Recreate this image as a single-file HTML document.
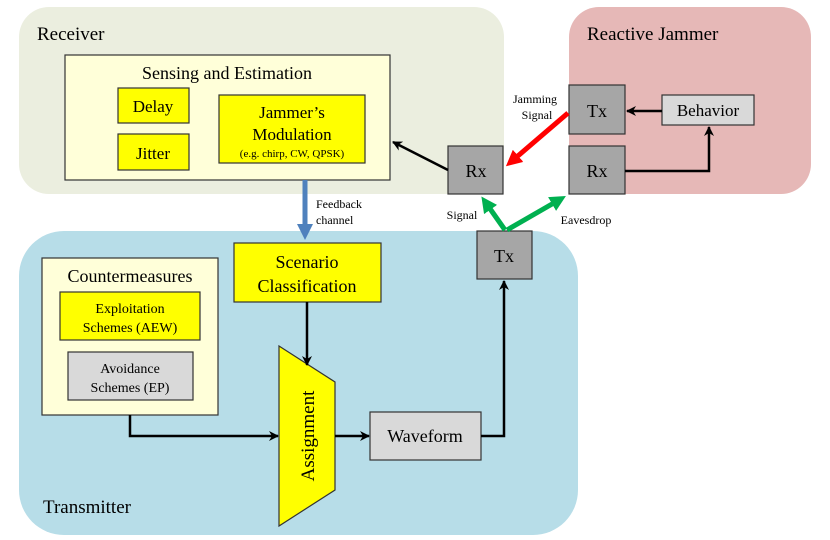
<!DOCTYPE html>
<html><head><meta charset="utf-8"><style>body{margin:0;background:#fff}svg{display:block}text{font-family:"Liberation Serif",serif}</style></head><body>
<svg width="830" height="540" viewBox="0 0 830 540" xmlns="http://www.w3.org/2000/svg" style="font-family:'Liberation Serif',serif">
<defs>
<marker id="ab" markerWidth="10" markerHeight="10" refX="9" refY="5" orient="auto" markerUnits="userSpaceOnUse"><path d="M0,0 L10,5 L0,10 L3,5z" fill="#000"/></marker>
<marker id="ar" markerWidth="16" markerHeight="16" refX="8" refY="8" orient="auto" markerUnits="userSpaceOnUse"><path d="M0,0 L16,8 L0,16z" fill="#f00"/></marker>
<marker id="ag" markerWidth="16" markerHeight="16" refX="8" refY="8" orient="auto" markerUnits="userSpaceOnUse"><path d="M0,0 L16,8 L0,16z" fill="#00b050"/></marker>
<marker id="abl" markerWidth="16" markerHeight="16" refX="8" refY="8" orient="auto" markerUnits="userSpaceOnUse"><path d="M0,0 L16,8 L0,16z" fill="#4f81bd"/></marker>
</defs>
<rect x="19" y="7" width="485" height="187" rx="30" fill="#ebeedf"/>
<rect x="569" y="7" width="242" height="187" rx="30" fill="#e6b8b7"/>
<rect x="19" y="231" width="559" height="304" rx="45" fill="#b7dde8"/>
<text x="37" y="40" font-size="19">Receiver</text>
<text x="587" y="40" font-size="19">Reactive Jammer</text>
<text x="43" y="513" font-size="19">Transmitter</text>
<g stroke="#333" stroke-width="1.2">
<rect x="65" y="55" width="325" height="125" fill="#ffffd9"/>
<rect x="118" y="88" width="71" height="35" fill="#ff0"/>
<rect x="118" y="134" width="71" height="36" fill="#ff0"/>
<rect x="219" y="95" width="146" height="68" fill="#ff0"/>
<rect x="448" y="146" width="55" height="48" fill="#a6a6a6"/>
<rect x="569" y="85" width="56" height="49" fill="#a6a6a6"/>
<rect x="569" y="146" width="56" height="48" fill="#a6a6a6"/>
<rect x="662" y="95" width="92" height="30" fill="#d9d9d9"/>
<rect x="477" y="231" width="55" height="48" fill="#a6a6a6"/>
<rect x="234" y="243" width="147" height="59" fill="#ff0"/>
<rect x="42" y="258" width="176" height="157" fill="#ffffd9"/>
<rect x="60" y="292" width="140" height="48" fill="#ff0"/>
<rect x="68" y="352" width="125" height="48" fill="#d9d9d9"/>
<polygon points="279,346 335,382 335,490 279,526" fill="#ff0"/>
<rect x="370" y="412" width="111" height="48" fill="#d9d9d9"/>
</g>
<g text-anchor="middle" font-size="17">
<text x="227" y="79" font-size="18">Sensing and Estimation</text>
<text x="153" y="112">Delay</text>
<text x="153" y="159">Jitter</text>
<text x="292" y="118">Jammer’s</text>
<text x="292" y="140">Modulation</text>
<text x="292" y="157" font-size="11">(e.g. chirp, CW, QPSK)</text>
<text x="476" y="177" font-size="18">Rx</text>
<text x="597" y="117" font-size="18">Tx</text>
<text x="597" y="177" font-size="18">Rx</text>
<text x="708" y="116">Behavior</text>
<text x="504" y="262" font-size="18">Tx</text>
<text x="307" y="268" font-size="18">Scenario</text>
<text x="307" y="292" font-size="18">Classification</text>
<text x="130" y="282" font-size="18">Countermeasures</text>
<text x="130" y="313" font-size="14">Exploitation</text>
<text x="130" y="332" font-size="14">Schemes (AEW)</text>
<text x="130" y="373" font-size="14">Avoidance</text>
<text x="130" y="392" font-size="14">Schemes (EP)</text>
<text x="425" y="442" font-size="18">Waveform</text>
<text transform="translate(314,436) rotate(-90)" font-size="19">Assignment</text>
<text x="535" y="103" font-size="12">Jamming</text>
<text x="537" y="119" font-size="12">Signal</text>
<text x="462" y="219" font-size="12">Signal</text>
<text x="586" y="224" font-size="12">Eavesdrop</text>
</g>
<text x="316" y="208" font-size="12">Feedback</text>
<text x="316" y="224" font-size="12">channel</text>
<g fill="none" stroke="#000" stroke-width="2.5">
<line x1="448" y1="170" x2="393" y2="142" marker-end="url(#ab)"/>
<line x1="662" y1="111" x2="627" y2="111" marker-end="url(#ab)"/>
<polyline points="625,171 709,171 709,127" marker-end="url(#ab)"/>
<line x1="307" y1="302" x2="307" y2="365" marker-end="url(#ab)"/>
<polyline points="130,415 130,436 278,436" marker-end="url(#ab)"/>
<line x1="335" y1="436" x2="369" y2="436" marker-end="url(#ab)"/>
<polyline points="481,436 504,436 504,281" marker-end="url(#ab)"/>
</g>
<line x1="305" y1="180" x2="305" y2="232" stroke="#4f81bd" stroke-width="5" marker-end="url(#abl)"/>
<line x1="568" y1="113" x2="512" y2="161" stroke="#f00" stroke-width="5" marker-end="url(#ar)"/>
<line x1="505" y1="230" x2="486" y2="203" stroke="#00b050" stroke-width="5" marker-end="url(#ag)"/>
<line x1="507" y1="230" x2="559" y2="200" stroke="#00b050" stroke-width="5" marker-end="url(#ag)"/>
</svg>
</body></html>
